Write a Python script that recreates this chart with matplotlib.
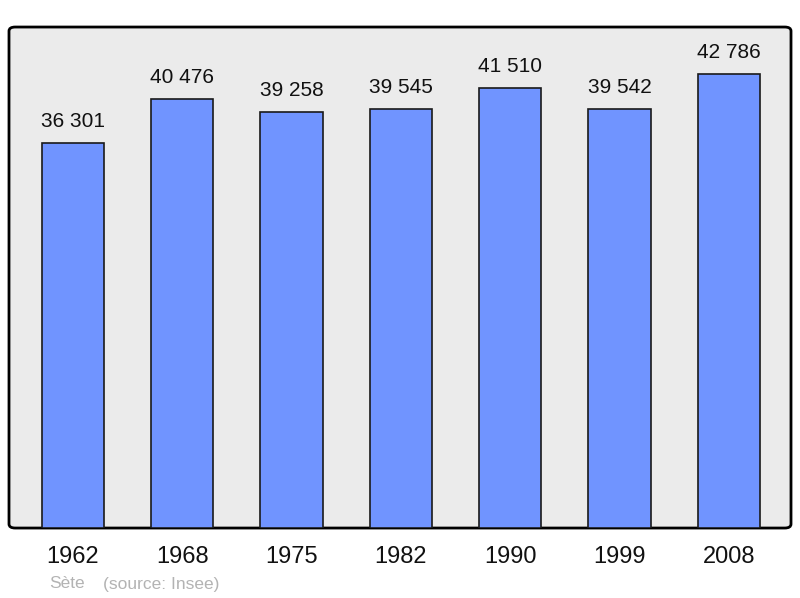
import matplotlib.pyplot as plt
from matplotlib.patches import FancyBboxPatch

years = ['1962', '1968', '1975', '1982', '1990', '1999', '2008']
population = [36301, 40476, 39258, 39545, 41510, 39542, 42786]
labels = ['36 301', '40 476', '39 258', '39 545', '41 510', '39 542', '42 786']

plt.rcParams['font.family'] = ['Liberation Sans', 'DejaVu Sans']

fig = plt.figure(figsize=(8, 5.98), dpi=100)
ax = fig.add_axes([0.01125, 0.117, 0.9775, 0.8378])

# rounded grey frame
frame = FancyBboxPatch((0, 0), 1, 1, boxstyle='round,pad=0,rounding_size=0.008',
                       transform=ax.transAxes, facecolor='#ebebeb',
                       edgecolor='black', linewidth=2, clip_on=False, zorder=0)
ax.add_patch(frame)
ax.set_axis_off()

x = range(len(years))
bars = ax.bar(x, population, width=0.57, color='#7094ff', edgecolor='#1a1a1a',
              linewidth=1.2, zorder=2)
for xi, v, lab in zip(x, population, labels):
    ax.annotate(lab, (xi, v), xytext=(0, 8.5), textcoords='offset points',
                ha='center', va='bottom', fontsize=15, color='#111111')
    ax.annotate(years[xi], (xi, 0), xytext=(0, -21), textcoords='offset points',
                ha='center', va='center', fontsize=17, color='#111111',
                annotation_clip=False)

ax.set_xlim(-0.585, 6.57)
ax.set_ylim(0, 47240)

fig.text(49 / 800, 1 - 584 / 598, 'Sète', fontsize=12.5, color='#b3b3b3',
         ha='left', va='center')
fig.text(103 / 800, 1 - 584 / 598, '(source: Insee)', fontsize=12.5, color='#b3b3b3',
         ha='left', va='center')

fig.savefig('out.png', dpi=100, facecolor='white')
